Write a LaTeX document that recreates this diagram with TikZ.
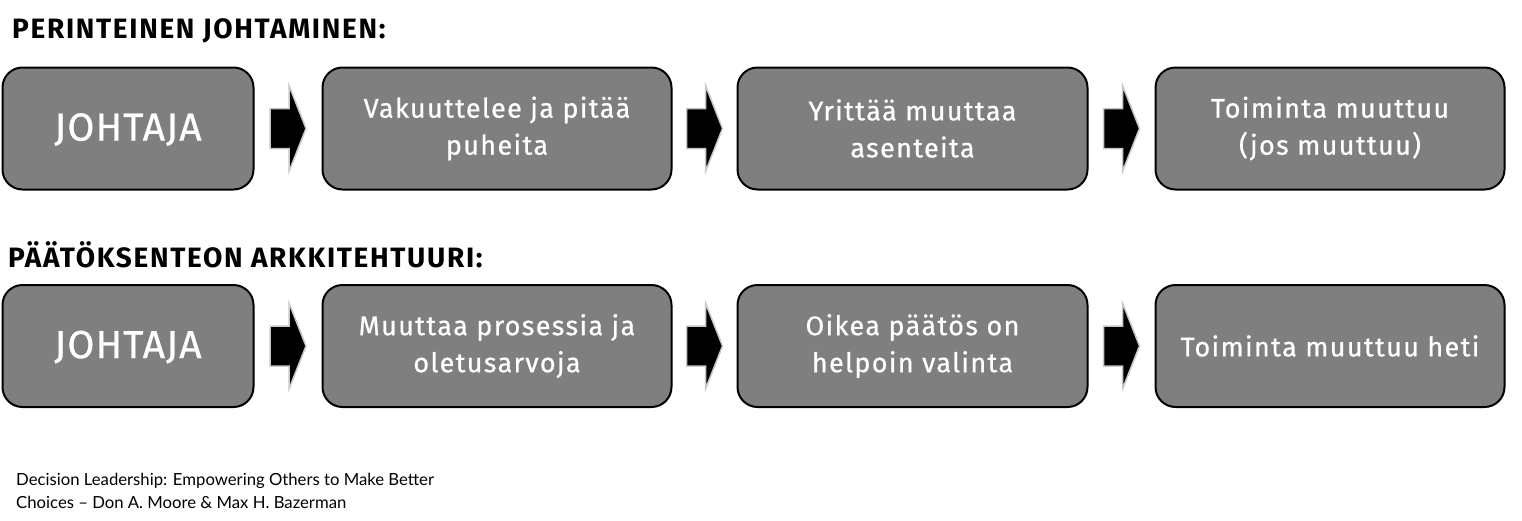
\documentclass[tikz,border=0pt]{standalone}
\usepackage{fontspec}
\setmainfont{Fira Sans}
\newfontfamily\titlefont[LetterSpace=6]{Fira Sans Bold}
\newfontfamily\boxfont[LetterSpace=5,FakeBold=0.7]{Fira Sans}
\newfontfamily\bigboxfont[LetterSpace=3,FakeBold=0.7]{Fira Sans}
\newfontfamily\footfont{Lato}
\usetikzlibrary{calc}
\definecolor{boxgray}{HTML}{7F7F7F}
\definecolor{arrowedge}{HTML}{C8C8C8}
\tikzset{
  stepbox/.style={draw=black, line width=2pt, fill=boxgray, rounded corners=20pt,
    minimum height=122pt, text=white, align=center, inner sep=0pt,
    font=\boxfont\fontsize{27}{37}\selectfont},
  twoline/.style={execute at begin node={\rule{0pt}{32pt}}},
  bigbox/.style={stepbox, font=\bigboxfont\fontsize{39}{44}\selectfont,
    execute at begin node={\rule{0pt}{29.5pt}}},
  rowtitle/.style={anchor=base west, inner sep=0pt, font=\titlefont\fontsize{28}{34}\selectfont},
  foot/.style={anchor=base west, inner sep=0pt, align=left, font=\footfont\fontsize{16.7}{23}\selectfont},
  blockarrow/.style={fill=black, draw=arrowedge, line width=1.5pt, line join=miter}
}
\newcommand{\blockarr}[1]{%
  \draw[blockarrow] ($(#1)+(-18,-20)$) -- ($(#1)+(1,-20)$) -- ($(#1)+(1,-43)$)
    -- ($(#1)+(18,0)$) -- ($(#1)+(1,43)$) -- ($(#1)+(1,20)$) -- ($(#1)+(-18,20)$) -- cycle;}
\begin{document}
\begin{tikzpicture}[x=1pt,y=-1pt]
\useasboundingbox (0,0) rectangle (1522,520);
% titles
\node[rowtitle] (t1) at (12,38) {PERINTEINEN JOHTAMINEN:};
\node[rowtitle] (t2) at (8,267) {PÄÄTÖKSENTEON ARKKITEHTUURI:};
% row 1
\node[bigbox, minimum width=251pt] (a1) at (128,128.5) {JOHTAJA};
\node[stepbox, twoline, minimum width=349pt] (a2) at (497,128.5) {Vakuuttelee ja pitää\\puheita};
\node[stepbox, twoline, minimum width=350pt] (a3) at (912.5,128.5) {Yrittää muuttaa\\asenteita};
\node[stepbox, twoline, minimum width=349pt] (a4) at (1330,128.5) {Toiminta muuttuu\\(jos muuttuu)};
% row 2
\node[bigbox, minimum width=251pt] (b1) at (128,346) {JOHTAJA};
\node[stepbox, twoline, minimum width=349pt] (b2) at (497,346) {Muuttaa prosessia ja\\oletusarvoja};
\node[stepbox, twoline, minimum width=350pt] (b3) at (912.5,346) {Oikea päätös on\\helpoin valinta};
\node[stepbox, minimum width=349pt] (b4) at (1330,346) {Toiminta muuttuu heti};
% arrows
\coordinate (m1) at ($(a1.east)!0.5!(a2.west)$);
\coordinate (m2) at ($(a2.east)!0.5!(a3.west)$);
\coordinate (m3) at ($(a3.east)!0.5!(a4.west)$);
\coordinate (n1) at ($(b1.east)!0.5!(b2.west)$);
\coordinate (n2) at ($(b2.east)!0.5!(b3.west)$);
\coordinate (n3) at ($(b3.east)!0.5!(b4.west)$);
\blockarr{m1}\blockarr{m2}\blockarr{m3}
\blockarr{n1}\blockarr{n2}\blockarr{n3}
% footer
\node[foot] (f) at (16,508) {Decision Leadership: Empowering Others to Make Better\\Choices – Don A. Moore \& Max H. Bazerman};
\end{tikzpicture}
\end{document}
